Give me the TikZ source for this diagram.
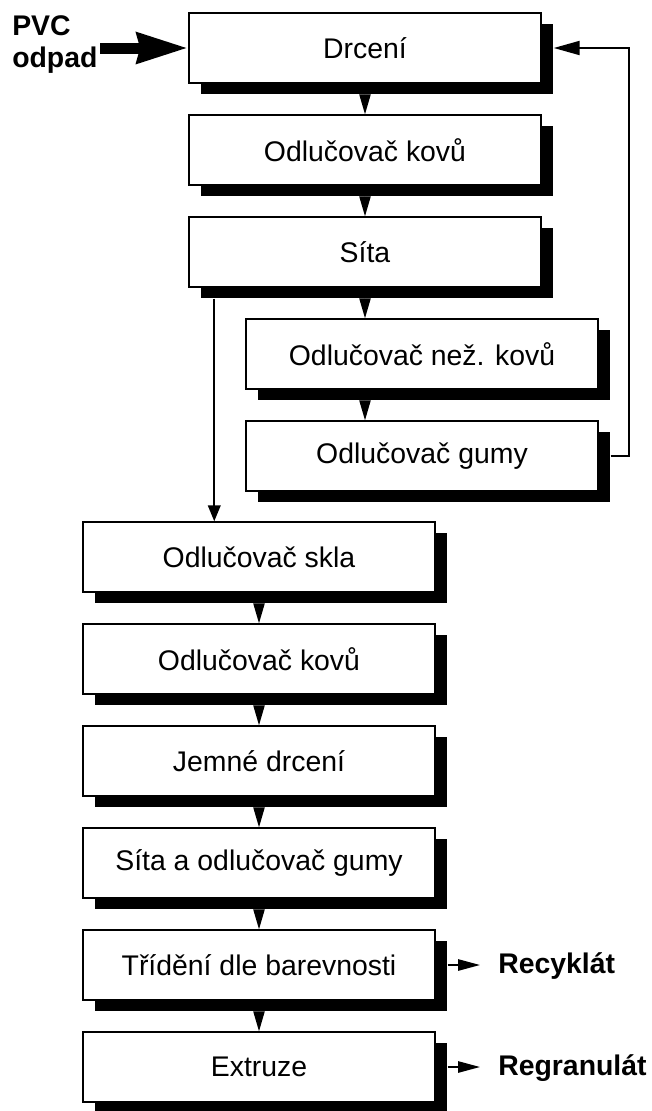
\documentclass[tikz,border=0pt]{standalone}
\usepackage{fontspec}
\setmainfont{Liberation Sans}
\usetikzlibrary{arrows.meta,shadows,calc}
\begin{document}
\begin{tikzpicture}[x=0.75pt,y=-0.75pt,
  every node/.style={font=\fontsize{21.3pt}{24pt}\selectfont},
  stage/.style={draw, line width=1.1pt, fill=white,
    minimum width=264pt, minimum height=52.5pt, inner sep=0pt,
    drop shadow={shadow xshift=9pt, shadow yshift=-8.25pt, opacity=1, fill=black}},
  outlabel/.style={font=\bfseries\fontsize{21.3pt}{24pt}\selectfont, inner sep=0pt},
  flow/.style={-{Triangle[length=15pt,width=8.5pt]}, line width=1pt},
  branch/.style={-{Triangle[length=12pt,width=9.5pt]}, line width=1.4pt},
  back/.style={-{Triangle[length=19.5pt,width=10.5pt]}, line width=1.5pt},
  product/.style={-{Triangle[length=16.5pt,width=8.5pt]}, line width=1.3pt, shorten >=13.5pt},
  feed/.style={-{Stealth[length=38pt,width=22pt,inset=2pt]}, line width=8.25pt}]
\useasboundingbox (0,0) rectangle (652,1111);

% upper line
\node[stage] (drc)  at (365,48)  {Drcení};
\node[stage] (kov1) at (365,150) {Odlučovač kovů};
\node[stage] (sita) at (365,252) {Síta};
\node[stage] (nez)  at (422,354) {Odlučovač než. kovů};
\node[stage] (gumy) at (422,456) {Odlučovač gumy};

% lower line
\node[stage] (skla)  at (259,557)  {Odlučovač skla};
\node[stage] (kov2)  at (259,659)  {Odlučovač kovů};
\node[stage] (jemne) at (259,761)  {Jemné drcení};
\node[stage] (sitag) at (259,863)  {Síta a odlučovač gumy};
\node[stage] (trid)  at (259,965)  {Třídění dle barevnosti};
\node[stage] (extr)  at (259,1067) {Extruze};

% input and products
\node[outlabel, align=left, anchor=north west] (pvc) at (12,15.5) {PVC\\odpad};
\node[outlabel, anchor=west] (recy) at (498,966)  {Recyklát};
\node[outlabel, anchor=west] (regr) at (498,1068) {Regranulát};

\coordinate (in) at (100,48);
\draw[feed] (in) -- (drc.west);

% main flow
\draw[flow] ([yshift=-8.25pt]drc.south) -- (kov1.north);
\draw[flow] ([yshift=-8.25pt]kov1.south) -- (sita.north);
\draw[flow] ([yshift=-8.25pt]sita.south) -- (sita.south |- nez.north);
\draw[flow] ($(nez.south -| sita.south)+(0pt,-8.25pt)$) -- (sita.south |- gumy.north);

\draw[flow] ([yshift=-8.25pt]skla.south) -- (kov2.north);
\draw[flow] ([yshift=-8.25pt]kov2.south) -- (jemne.north);
\draw[flow] ([yshift=-8.25pt]jemne.south) -- (sitag.north);
\draw[flow] ([yshift=-8.25pt]sitag.south) -- (trid.north);
\draw[flow] ([yshift=-8.25pt]trid.south) -- (extr.north);

% screened fraction down to the glass separator
\coordinate (drop) at ($(sita.south west)+(19.5pt,-8.25pt)$);
\draw[branch] (drop) -- (drop |- skla.north);

% return loop from the rubber separator
\coordinate (ret) at (629,48);
\draw[back] ([xshift=9pt]gumy.east) -| (ret) -- ([xshift=9pt]drc.east);

% products
\draw[product] ([xshift=9pt]trid.east) -- (trid.east -| recy.west);
\draw[product] ([xshift=9pt]extr.east) -- (extr.east -| regr.west);
\end{tikzpicture}
\end{document}
